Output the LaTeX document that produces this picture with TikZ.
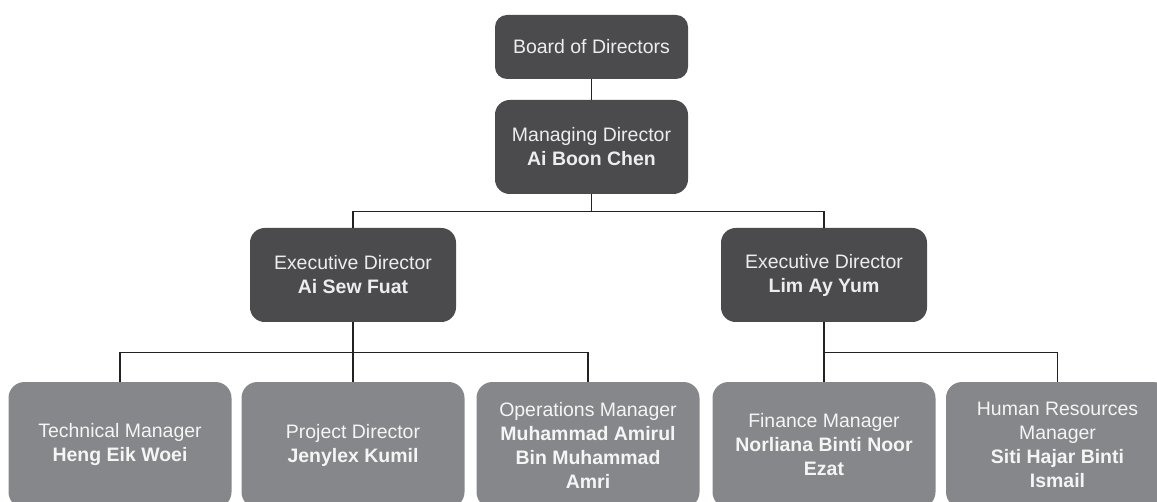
\documentclass[tikz,border=0pt]{standalone}
\usepackage{fontspec}
\setmainfont{Liberation Sans}
\definecolor{boxdark}{HTML}{4B4B4D}
\definecolor{boxlight}{HTML}{86878A}
\definecolor{linkline}{HTML}{222222}

\begin{document}
\begin{tikzpicture}[x=0.75pt, y=-0.75pt,
  box/.style={align=center, inner sep=0pt, font=\fontsize{14.6}{18}\selectfont},
  darkbox/.style={box, fill=boxdark, text=white!93!black, rounded corners=11pt, minimum width=154.5pt, minimum height=70.5pt},
  lightbox/.style={box, fill=boxlight, text=white!96!black, rounded corners=12pt, minimum width=167.25pt, minimum height=94.5pt},
  link/.style={draw=linkline, line width=1.1pt}]
  \useasboundingbox (0,0) rectangle (1157,502);
  \node[darkbox, minimum width=144.75pt, minimum height=48pt, rounded corners=9pt] (board) at (591.5,47) {Board of Directors};
  \node[darkbox, minimum width=144.75pt] (md) at (591.5,147) {Managing Director\\\textbf{Ai Boon Chen}};
  \node[darkbox] (edl) at (353,275) {Executive Director\\\textbf{Ai Sew Fuat}};
  \node[darkbox] (edr) at (824,275) {Executive Director\\\textbf{Lim Ay Yum}};
  \node[lightbox] (tm) at (120,445) {Technical Manager\\\textbf{Heng Eik Woei}};
  \node[lightbox] (pd) at (353,445) {Project Director\\\textbf{Jenylex Kumil}};
  \node[lightbox] (om) at (588,445) {Operations Manager\\\textbf{Muhammad Amirul}\\\textbf{Bin Muhammad}\\\textbf{Amri}};
  \node[lightbox] (fm) at (824,445) {Finance Manager\\\textbf{Norliana Binti Noor}\\\textbf{Ezat}};
  \node[lightbox] (hr) at (1057.5,445) {Human Resources\\Manager\\\textbf{Siti Hajar Binti}\\\textbf{Ismail}};
  \draw[link] (board) -- (md);
  \foreach \n in {edl,edr}
    \draw[link] (md.south) -- ++(0,17) -| (\n.north);
  \foreach \n in {tm,pd,om}
    \draw[link] (edl.south) -- ++(0,30) -| (\n.north);
  \foreach \n in {fm,hr}
    \draw[link] (edr.south) -- ++(0,30) -| (\n.north);
\end{tikzpicture}
\end{document}
